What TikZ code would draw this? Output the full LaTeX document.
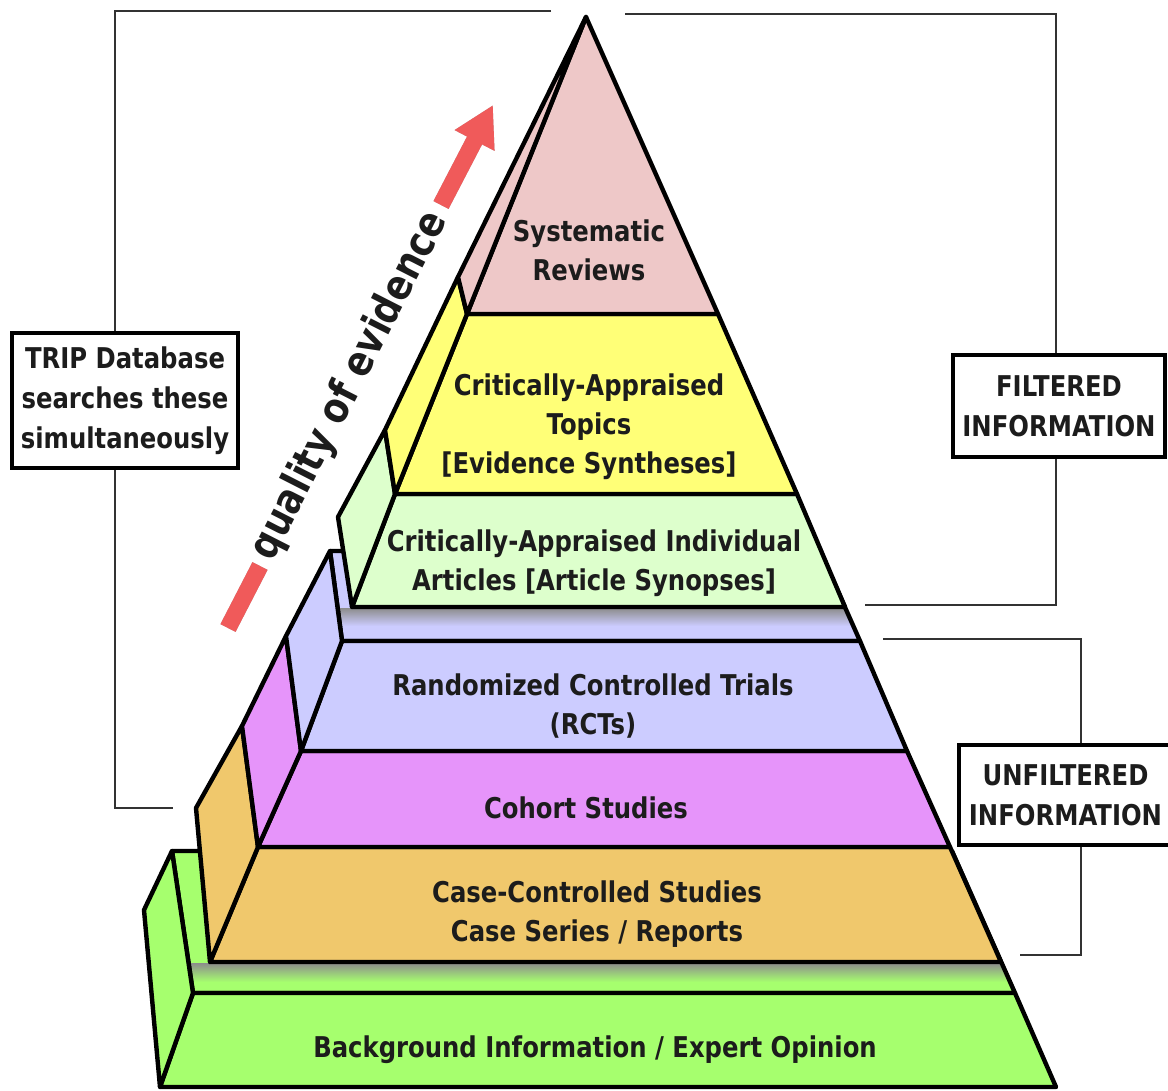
\documentclass[tikz,border=0pt]{standalone}
\usepackage{fontspec}
\setmainfont{DejaVu Sans}[FakeStretch=0.85]
\usetikzlibrary{arrows.meta}
\definecolor{revpink}{RGB}{238,200,200}
\definecolor{topyellow}{RGB}{255,255,119}
\definecolor{artgreen}{RGB}{221,255,204}
\definecolor{rctlav}{RGB}{204,204,255}
\definecolor{cohviolet}{RGB}{230,148,250}
\definecolor{caseorange}{RGB}{240,200,108}
\definecolor{bggreen}{RGB}{166,255,110}
\definecolor{arrowred}{RGB}{240,90,90}
\definecolor{textdark}{RGB}{28,28,28}
\definecolor{railgray}{RGB}{50,50,50}
\begin{document}
\begin{tikzpicture}[x=0.5pt,y=-0.5pt,
    face/.style={draw=black,line width=2.2pt,line join=round},
    level/.style={font=\bfseries\fontsize{14.3}{19.5}\selectfont,text=textdark,align=center,inner sep=0pt},
    infobox/.style={draw=black,line width=2pt,fill=white,text=textdark,font=\bfseries\fontsize{14.3}{20}\selectfont,align=center,inner sep=0pt},
    rail/.style={draw=railgray,line width=1.1pt},
    qualarrow/.style={draw=arrowred,line width=8.5pt}]
    \useasboundingbox (0,0) rectangle (1168,1091);
    \fill[white] (0,0) rectangle (1168,1091);
    % front corners (left f, right r) and outer corners of the side faces
    \coordinate (apex) at (586,17);
    \coordinate (f1) at (467,314); \coordinate (r1) at (718,314);
    \coordinate (f2) at (395,494); \coordinate (r2) at (797,494);
    \coordinate (f3) at (352,607); \coordinate (r3) at (845,607);
    \coordinate (f4) at (342,641); \coordinate (r4) at (860,641);
    \coordinate (f5) at (301,751); \coordinate (r5) at (907,751);
    \coordinate (f6) at (258,847); \coordinate (r6) at (950,847);
    \coordinate (f7) at (210,962); \coordinate (r7) at (1001,962);
    \coordinate (f8) at (193,993); \coordinate (r8) at (1015,993);
    \coordinate (f9) at (160,1087); \coordinate (r9) at (1056,1087);
    \coordinate (p1) at (458,277); \coordinate (p2) at (385,430);
    \coordinate (p3) at (338,517); \coordinate (q1) at (330,551);
    \coordinate (p4) at (286,636); \coordinate (p5) at (242,726);
    \coordinate (p6) at (196,808); \coordinate (q2) at (172,851);
    \coordinate (p7) at (144,910);
    \coordinate (q1r) at (820,551); \coordinate (q2r) at (952,851);
    % background level with its ledge
    \fill[bggreen] (q2) -- (q2r) -- (r8) -- (f8) -- cycle;
    \begin{scope}
        \clip (q2) -- (q2r) -- (r8) -- (f8) -- cycle;
        \shade[top color=black!45,bottom color=bggreen] (140,963) rectangle (1030,982);
    \end{scope}
    \draw[face] (q2) -- (q2r) -- (r8) -- (f8) -- cycle;
    \filldraw[face,fill=bggreen] (f8) -- (r8) -- (r9) -- (f9) -- cycle;
    \filldraw[face,fill=bggreen] (q2) -- (f8) -- (f9) -- (p7) -- cycle;
    % case, cohort
    \filldraw[face,fill=caseorange] (f6) -- (r6) -- (r7) -- (f7) -- cycle;
    \filldraw[face,fill=caseorange] (p5) -- (f6) -- (f7) -- (p6) -- cycle;
    \filldraw[face,fill=cohviolet] (f5) -- (r5) -- (r6) -- (f6) -- cycle;
    \filldraw[face,fill=cohviolet] (p4) -- (f5) -- (f6) -- (p5) -- cycle;
    % RCT level with its ledge
    \fill[rctlav] (q1) -- (q1r) -- (r4) -- (f4) -- cycle;
    \begin{scope}
        \clip (q1) -- (q1r) -- (r4) -- (f4) -- cycle;
        \shade[top color=black!45,bottom color=rctlav] (320,608) rectangle (870,626);
    \end{scope}
    \draw[face] (q1) -- (q1r) -- (r4) -- (f4) -- cycle;
    \filldraw[face,fill=rctlav] (f4) -- (r4) -- (r5) -- (f5) -- cycle;
    \filldraw[face,fill=rctlav] (q1) -- (f4) -- (f5) -- (p4) -- cycle;
    % filtered levels
    \filldraw[face,fill=artgreen] (f2) -- (r2) -- (r3) -- (f3) -- cycle;
    \filldraw[face,fill=artgreen] (p2) -- (f2) -- (f3) -- (p3) -- cycle;
    \filldraw[face,fill=topyellow] (f1) -- (r1) -- (r2) -- (f2) -- cycle;
    \filldraw[face,fill=topyellow] (p1) -- (f1) -- (f2) -- (p2) -- cycle;
    \filldraw[face,fill=revpink] (apex) -- (r1) -- (f1) -- cycle;
    \filldraw[face,fill=revpink] (apex) -- (f1) -- (p1) -- cycle;
    % level labels
    \node[level] (reviews) at (589,250) {Systematic\\Reviews};
    \node[level] (topics) at (589,427) {Critically-Appraised\\Topics\\{[}Evidence Syntheses{]}};
    \node[level] (articles) at (594,563) {Critically-Appraised Individual\\Articles [Article Synopses]};
    \node[level] (rct) at (593,706) {Randomized Controlled Trials\\(RCTs)};
    \node[level] (cohort) at (586,808) {Cohort Studies};
    \node[level] (casectl) at (597,914) {Case-Controlled Studies\\Case Series / Reports};
    \node[level] (background) at (595,1050) {Background Information / Expert Opinion};
    % quality arrow
    \coordinate (qualLow) at (228,628); \coordinate (qualLowEnd) at (260,566);
    \coordinate (qualHigh) at (441,205); \coordinate (qualTip) at (493,105);
    \draw[qualarrow,draw=black!30,shift={(3,3)}] (qualLow) -- (qualLowEnd);
    \draw[qualarrow,draw=black!30,shift={(3,3)},-{Triangle[length=20pt,width=21pt]}] (qualHigh) -- (qualTip);
    \draw[qualarrow] (qualLow) -- (qualLowEnd);
    \draw[qualarrow,-{Triangle[length=20pt,width=21pt]}] (qualHigh) -- (qualTip);
    \node[font=\bfseries\fontsize{21}{21}\selectfont,text=textdark,rotate=63,inner sep=0pt] (quality) at (350,386) {quality of evidence};
    % side boxes and their rails
    \node[infobox,minimum width=113pt,minimum height=67.5pt] (trip) at (125,400.5) {TRIP Database\\searches these\\simultaneously};
    \node[infobox,minimum width=106pt,minimum height=51pt] (filtered) at (1059,406) {FILTERED\\INFORMATION};
    \node[infobox,minimum width=106.5pt,minimum height=50pt] (unfiltered) at (1065.5,795) {UNFILTERED\\INFORMATION};
    \coordinate (tripRail) at (115,0); \coordinate (tripTop) at (551,11); \coordinate (tripBot) at (173,808);
    \coordinate (filtRail) at (1056,0); \coordinate (filtTop) at (625,14); \coordinate (filtBot) at (865,605);
    \coordinate (unfRail) at (1081,0); \coordinate (unfTop) at (883,639); \coordinate (unfBot) at (1020,955);
    \draw[rail] (tripTop) -| (trip.north -| tripRail);
    \draw[rail] (trip.south -| tripRail) |- (tripBot);
    \draw[rail] (filtTop) -| (filtered.north -| filtRail);
    \draw[rail] (filtered.south -| filtRail) |- (filtBot);
    \draw[rail] (unfTop) -| (unfiltered.north -| unfRail);
    \draw[rail] (unfiltered.south -| unfRail) |- (unfBot);
\end{tikzpicture}
\end{document}
